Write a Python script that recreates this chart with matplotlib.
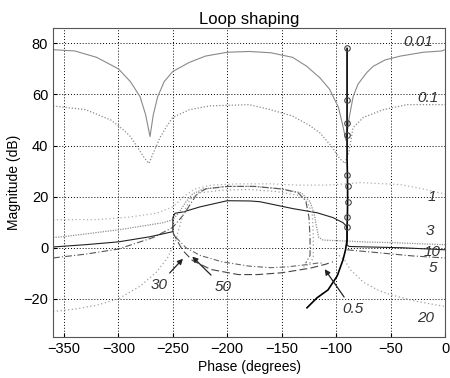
import numpy as np
import matplotlib
matplotlib.use('Agg')
import matplotlib.pyplot as plt

plt.rcParams['font.family'] = ['Liberation Sans', 'DejaVu Sans']

# QFT bounds (phase in degrees, magnitude in dB)
ph_001 = [-360, -340, -320, -300, -289, -280, -275, -271, -268, -264, -258, -250, -235, -220, -200, -180,
          -160, -140, -127, -115, -106, -98, -94, -91, -88, -84.5, -80, -72, -66, -55, -41, -20, -3, 0]
mag_001 = [77.5, 77, 74.5, 70, 65, 59, 52, 43.5, 52, 59, 65, 69, 72.5, 75, 76.5, 76.8,
           76.3, 74.5, 71, 66.5, 62, 55, 48, 42, 51, 59, 64, 68.5, 71, 73.5, 75, 76.5, 77, 77.5]

ph_01 = [-360, -330, -307, -295, -289, -282, -276, -272, -268, -262, -255, -250, -235, -216, -180,
         -160, -140, -125, -115, -103, -97, -92, -88, -84.5, -75, -57, -35, 0]
mag_01 = [55.5, 54, 50, 46, 43.5, 39, 35, 33, 37, 43, 48, 51, 54, 55.5, 56,
          54, 51.5, 48, 45, 39, 35, 33, 38, 47, 51, 54, 56, 56]

ph_1 = [-360, -320, -290, -265, -250, -240, -230, -215, -190, -160, -135, -110, -90, -78, -41, -20, 0]
mag_1 = [11, 11, 12, 13.5, 16, 20, 23, 24.5, 25, 25, 24.5, 24.5, 25, 25.5, 24.7, 23, 21]

ph_3 = [-360, -351, -300, -259, -250, -244, -238, -232, -222, -200, -175, -150, -132, -124, -120,
        -118, -116, -112, -100, -90, -70, -48, -20, 0]
mag_3 = [4, 4.3, 7, 9.8, 11, 14, 18, 21, 23, 24, 24, 23, 21.5, 18, 13,
         8, 4, 3, 2.8, 2.6, 2.2, 2, 1.5, 1.2]

ph_5 = [-360, -330, -300, -268, -250, -240, -234, -228, -220, -200, -175, -150, -135, -128, -125,
        -124, -124, -128, np.nan, -90, -60, -30, 0]
mag_5 = [-4, -2.5, -0.5, 4, 8, 13, 17, 21, 23, 24, 24, 23, 21.5, 18.5, 12,
         4, -3, -6, np.nan, -0.8, -2, -3.2, -4]

ph_10 = [-360, -330, -300, -271, -250, -250, -248, -240.6, -225, -200, -179, -170, -139.6, -117.6,
         -103, -93.7, -90, -90, -88, -80, -60, -40, -20, 0]
mag_10 = [0.3, 1.2, 2.3, 4.3, 6.3, 11.8, 13.5, 14, 16, 18.4, 18.3, 18, 15.3, 13.7,
          11.8, 9.8, 8.2, 1, 0.5, 0.4, 0.2, 0, -0.4, -0.8]

ph_20 = [-360, -340, -320, -300, -280, -265, -255, -248, -244, -240, -234, -225, -205, -180, -155,
         -135, -128, -122, -121, -121, -125, -130, np.nan, -100, -92, -87, -75, -62, -50, -26, 0]
mag_20 = [-25, -24, -22.5, -20, -15, -9.5, -4, 2, 8, 14, 19, 21.5, 22.5, 22.8, 22,
          20.5, 18.8, 13.7, 5, -4, -6.5, -7.5, np.nan, -2, -5, -8.6, -13.5, -16.5, -18.4, -21, -23]

ph_30 = [-250, -245, -241, -232, -215, -190, -172, -150, -124, -110, -103]
mag_30 = [6, 2, -1, -5, -8.5, -10.5, -10.5, -9.8, -8, -6.5, -5.5]

ph_50 = [-247, -238, -225, -205, -180, -160, -145, -125, -117, -113]
mag_50 = [4, 0, -3, -5.5, -7.2, -7.8, -7.5, -6.5, -6, -6]

# nominal loop L0
L0_phase = [-90, -90, -90, -90, -90, -89.7, -89.5, -89.5, -89.7, -90, -90, -91.5, -93.7, -99, -107.5, -117.6, -126.8]
L0_mag = [78, 58, 49, 44, 35, 28.6, 24, 18, 12, 8, 3, -1, -4.7, -11, -16.5, -19.6, -23.5]
L0_marks = [0, 1, 2, 3, 5, 6, 7, 8, 9]

fig = plt.figure(figsize=(4.5, 3.78), dpi=100)
ax = fig.add_axes([0.118, 0.108, 0.871, 0.818])

ax.plot(ph_001, mag_001, color='#8a8a8a', lw=0.8)
ax.plot(ph_01, mag_01, color='#8a8a8a', lw=0.9, linestyle=(0, (1, 1.5)))
ax.plot(ph_1, mag_1, color='#b0b0b0', lw=0.9, linestyle=(0, (1, 2)))
ax.plot(ph_3, mag_3, color='#909090', lw=0.9, linestyle=(0, (1, 1)))
ax.plot(ph_5, mag_5, color='#555555', lw=0.8, linestyle=(0, (6, 2, 1, 2)))
ax.plot(ph_10, mag_10, color='#222222', lw=0.8)
ax.plot(ph_20, mag_20, color='#a0a0a0', lw=0.9, linestyle=(0, (1, 2)))
ax.plot(ph_30, mag_30, color='#444444', lw=0.8, linestyle=(0, (7, 3)))
ax.plot(ph_50, mag_50, color='#666666', lw=0.8, linestyle=(0, (5, 2, 1, 2)))

ax.plot(L0_phase, L0_mag, color='black', lw=1.2, marker='o', markersize=4,
        markerfacecolor='none', markeredgecolor='#444444', markeredgewidth=0.8, markevery=L0_marks)

lbl = dict(style='italic', fontsize=11, color='#333333', ha='center', va='center')
ax.text(-25, 80.5, '0.01', **lbl)
ax.text(-16, 58.5, '0.1', **lbl)
ax.text(-12, 20, '1', **lbl)
ax.text(-14, 6.5, '3', **lbl)
ax.text(-12, -1.5, '10', **lbl)
ax.text(-11, -7.8, '5', **lbl)
ax.text(-18, -27.5, '20', **lbl)

arr = dict(arrowstyle='-|>', color='#222222', lw=0.9, mutation_scale=8)
ax.annotate('30', xy=(-239, -3.5), xytext=(-263, -14.5), arrowprops=arr, **lbl)
ax.annotate('50', xy=(-234, -2.7), xytext=(-204, -15.3), arrowprops=arr, **lbl)
ax.annotate('0.5', xy=(-112, -7.5), xytext=(-85, -24), arrowprops=arr, **lbl)

ax.set_xlim(-360, 0)
ax.set_ylim(-35, 86)
ax.set_xticks(np.arange(-350, 1, 50))
ax.set_yticks(np.arange(-20, 81, 20))
ax.tick_params(labelsize=10.5, length=3, direction='in')
ax.grid(True, color='black', linestyle=(0, (1, 2)), lw=0.7)
for s in ax.spines.values():
    s.set_linewidth(0.8)
    s.set_color('#555555')

ax.set_title('Loop shaping', fontsize=12, pad=3)
ax.set_xlabel('Phase (degrees)', fontsize=10, labelpad=3)
ax.set_ylabel('Magnitude (dB)', fontsize=10, labelpad=2)

fig.savefig('out.png', dpi=100)
